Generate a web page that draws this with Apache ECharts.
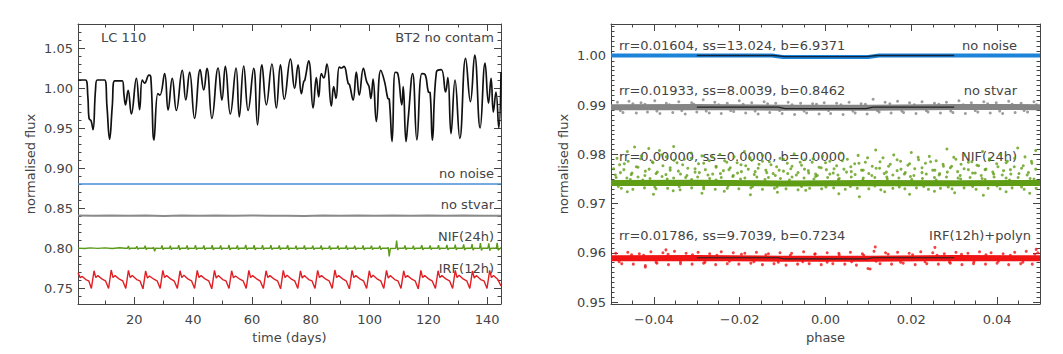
<!DOCTYPE html>
<html lang="en">
<head>
  <meta charset="UTF-8">
  <title>LC 110 light curves</title>
  <style>
    html, body { margin: 0; padding: 0; background: #fff; }
    #chart { width: 1063px; height: 354px; }
  </style>
</head>
<body>
  <div id="chart"></div>
  <script src="https://cdn.jsdelivr.net/npm/echarts@6/dist/echarts.min.js"></script>
  <script>
    // ---- left panel: time series ----
    const lcDay = [0.85,3.4,4.2,4.6,5.3,5.95,6.8,7.4,9.9,10.7,11.6,12.5,13.3,15.9,16.5,17.0,17.9,19.0,20.7,21.8,22.7,23.5,25.0,25.6,26.7,28.0,28.7,30.3,31.5,32.9,34.3,36.3,37.5,38.8,40.5,42.4,43.6,44.7,46.4,48.5,49.8,50.95,52.65,54.6,55.7,57.2,58.7,60.6,61.9,63.4,64.9,66.8,68.3,69.7,71.0,73.1,74.5,75.7,76.8,77.6,78.0,79.3,80.8,81.9,82.7,83.6,84.4,85.5,87.0,87.8,88.6,89.7,90.5,91.3,92.7,93.2,94.4,95.5,96.5,97.9,99.0,99.8,100.45,101.2,102.3,103.8,105.1,106.2,106.7,107.65,108.7,109.5,110.96,111.45,112.4,113.1,114.66,116.1,117.8,118.84,120.0,120.6,121.37,122.74,124.4,125.86,126.63,127.7,129.06,130.7,132.66,134.3,135.76,137.6,139.28,140.44,141.32,142.1,142.98,143.95,144.7];
    const lcFlux = [1.010,1.010,0.989,0.962,0.959,0.948,0.9975,1.010,1.010,0.977,0.936,0.977,1.009,1.009,0.991,0.979,0.997,0.9675,1.012,0.973,1.010,1.006,1.016,1.014,0.935,0.993,0.991,1.018,0.9725,1.012,0.972,1.022,0.985,1.020,0.962,1.023,0.9975,1.0246,0.962,1.025,0.985,1.027,0.9675,1.025,0.964,1.0275,0.972,1.0246,0.954,1.029,0.979,1.030,0.975,1.029,0.986,1.036,0.9996,1.029,0.993,1.008,1.010,1.034,0.975,1.013,0.989,1.018,1.0125,1.030,0.9775,1.0017,0.987,1.026,1.025,1.027,1.006,1.004,0.985,1.020,0.991,1.0246,1.008,1.002,0.987,1.011,0.958,1.022,1.008,0.987,0.986,0.933,1.0196,1.019,0.979,1.0017,0.933,0.960,1.018,0.935,1.018,1.017,0.995,0.994,0.935,1.020,1.023,0.995,1.013,0.943,1.010,0.937,1.037,0.983,1.041,0.950,1.031,0.981,1.012,0.970,0.995,0.950,1.020];

    const noNoiseLeft = [[0.85,0.880],[144.7,0.880]];

    const noStvarLeft = [[0.85,0.8405],[6,0.8402],[12,0.8406],[18,0.8403],[24,0.8405],[30,0.8401],[36,0.8406],[42,0.8403],[48,0.8405],[54,0.8402],[60,0.8406],[66,0.8403],[72,0.8404],[78,0.8401],[84,0.8406],[90,0.8403],[96,0.8405],[102,0.8402],[108,0.8406],[114,0.8403],[120,0.8405],[126,0.8402],[132,0.8406],[138,0.8403],[144.7,0.8404]];

    // spikes: base, top, dip, base
    const nifLeft = [[0.85,0.7998],[3,0.7994],[5,0.8001],[7.5,0.7995],[10,0.8002],[12.5,0.7993],[15,0.8003],[16.8,0.7996],
      [17.7,0.7997],[18.0,0.8025],[18.35,0.7983],[18.7,0.7997],
      [20.55,0.7997],[20.85,0.8022],[21.2,0.7984],[21.55,0.7998],
      [23.4,0.7996],[23.7,0.8028],[24.05,0.7981],[24.4,0.7997],
      [26.25,0.7997],[26.55,0.8012],[26.9,0.7958],[27.25,0.7996],
      [29.1,0.7995],[29.4,0.8032],[29.75,0.7979],[30.1,0.7997],
      [31.95,0.7996],[32.25,0.8030],[32.6,0.7980],[32.95,0.7998],
      [34.8,0.7997],[35.1,0.8034],[35.45,0.7978],[35.8,0.7996],
      [37.65,0.7996],[37.95,0.8031],[38.3,0.7981],[38.65,0.7997],
      [40.5,0.7995],[40.8,0.8035],[41.15,0.7979],[41.5,0.7998],
      [43.35,0.7996],[43.65,0.8033],[44.0,0.7980],[44.35,0.7996],
      [46.2,0.7997],[46.5,0.8036],[46.85,0.7978],[47.2,0.7997],
      [49.05,0.7996],[49.35,0.8032],[49.7,0.7981],[50.05,0.7998],
      [51.9,0.7995],[52.2,0.8037],[52.55,0.7977],[52.9,0.7996],
      [54.75,0.7996],[55.05,0.8033],[55.4,0.7980],[55.75,0.7997],
      [57.6,0.7997],[57.9,0.8038],[58.25,0.7979],[58.6,0.7996],
      [60.45,0.7996],[60.75,0.8034],[61.1,0.7978],[61.45,0.7998],
      [63.3,0.7995],[63.6,0.8036],[63.95,0.7981],[64.3,0.7997],
      [66.15,0.7996],[66.45,0.8035],[66.8,0.7979],[67.15,0.7996],
      [69.0,0.7997],[69.3,0.8031],[69.65,0.7980],[70.0,0.7997],
      [71.85,0.7996],[72.15,0.8034],[72.5,0.7978],[72.85,0.7998],
      [74.7,0.7995],[75.0,0.8030],[75.35,0.7981],[75.7,0.7996],
      [77.55,0.7996],[77.85,0.8033],[78.2,0.7979],[78.55,0.7997],
      [80.4,0.7997],[80.7,0.8029],[81.05,0.7980],[81.4,0.7996],
      [83.25,0.7996],[83.55,0.8032],[83.9,0.7978],[84.25,0.7998],
      [86.1,0.7995],[86.4,0.8030],[86.75,0.7981],[87.1,0.7997],
      [88.95,0.7996],[89.25,0.8028],[89.6,0.7980],[89.95,0.7996],
      [91.8,0.7997],[92.1,0.8031],[92.45,0.7979],[92.8,0.7997],
      [94.65,0.7996],[94.95,0.8029],[95.3,0.7981],[95.65,0.7998],
      [97.5,0.7995],[97.8,0.8032],[98.15,0.7978],[98.5,0.7996],
      [100.35,0.7996],[100.65,0.8030],[101.0,0.7980],[101.35,0.7997],
      [103.2,0.7997],[103.5,0.8027],[103.85,0.7979],[104.2,0.7996],
      [106.05,0.7996],[106.35,0.8008],[106.7,0.7895],[107.05,0.7994],
      [108.9,0.7997],[109.2,0.8092],[109.55,0.7975],[109.9,0.7998],
      [111.75,0.7996],[112.05,0.8033],[112.4,0.7979],[112.75,0.7997],
      [114.6,0.7995],[114.9,0.8030],[115.25,0.7980],[115.6,0.7996],
      [117.45,0.7996],[117.75,0.8034],[118.1,0.7978],[118.45,0.7998],
      [120.3,0.7997],[120.6,0.8031],[120.95,0.7981],[121.3,0.7996],
      [123.15,0.7996],[123.45,0.8035],[123.8,0.7979],[124.15,0.7997],
      [126.0,0.7995],[126.3,0.8038],[126.65,0.7977],[127.0,0.7996],
      [128.85,0.7996],[129.15,0.8042],[129.5,0.7976],[129.85,0.7998],
      [131.7,0.7997],[132.0,0.8045],[132.35,0.7975],[132.7,0.7996],
      [134.55,0.7996],[134.85,0.8048],[135.2,0.7974],[135.55,0.7997],
      [137.4,0.7995],[137.7,0.8062],[138.05,0.7970],[138.4,0.7998],
      [140.25,0.7996],[140.55,0.8058],[140.9,0.7968],[141.25,0.7997],
      [143.1,0.7997],[143.4,0.8064],[143.75,0.7972],[144.7,0.8005]];

    const irfLeft = [[0.85,0.769],[1.6,0.763],[2.3,0.7645],[3.5,0.7605],[4.5,0.759],
      [5.4,0.7495],[6.3,0.7715],[6.9,0.763],[7.6,0.7655],[9.1,0.761],[10.2,0.759],
      [11.25,0.7495],[12.15,0.7725],[12.75,0.763],[13.45,0.7655],[14.95,0.761],[16.05,0.759],
      [17.1,0.7495],[18.0,0.772],[18.6,0.763],[19.3,0.7655],[20.8,0.7605],[21.9,0.759],
      [22.95,0.749],[23.85,0.7715],[24.45,0.7625],[25.15,0.765],[26.65,0.761],[27.75,0.759],
      [28.8,0.7495],[29.7,0.772],[30.3,0.763],[31.0,0.7655],[32.5,0.761],[33.6,0.7585],
      [34.65,0.7495],[35.55,0.7715],[36.15,0.763],[36.85,0.766],[38.35,0.761],[39.45,0.759],
      [40.5,0.7495],[41.4,0.772],[42.0,0.763],[42.7,0.7655],[44.2,0.761],[45.3,0.759],
      [46.35,0.749],[47.25,0.772],[47.85,0.7625],[48.55,0.7655],[50.05,0.7605],[51.15,0.759],
      [52.2,0.7495],[53.1,0.7715],[53.7,0.763],[54.4,0.765],[55.9,0.761],[57.0,0.759],
      [58.05,0.7495],[58.95,0.772],[59.55,0.763],[60.25,0.7655],[61.75,0.761],[62.85,0.7585],
      [63.9,0.7495],[64.8,0.7715],[65.4,0.763],[66.1,0.7655],[67.6,0.761],[68.7,0.759],
      [69.75,0.749],[70.65,0.772],[71.25,0.763],[71.95,0.766],[73.45,0.761],[74.55,0.759],
      [75.6,0.7495],[76.5,0.7715],[77.1,0.7625],[77.8,0.7655],[79.3,0.7605],[80.4,0.759],
      [81.45,0.7495],[82.35,0.772],[82.95,0.763],[83.65,0.7655],[85.15,0.761],[86.25,0.759],
      [87.3,0.7495],[88.2,0.7725],[88.8,0.763],[89.5,0.7655],[91.0,0.761],[92.1,0.7585],
      [93.15,0.749],[94.05,0.772],[94.65,0.763],[95.35,0.7655],[96.85,0.761],[97.95,0.759],
      [99.0,0.7495],[99.9,0.7715],[100.5,0.763],[101.2,0.766],[102.7,0.761],[103.8,0.759],
      [104.85,0.7495],[105.75,0.772],[106.35,0.7625],[107.05,0.7655],[108.55,0.7605],[109.65,0.759],
      [110.7,0.7495],[111.6,0.7715],[112.2,0.763],[112.9,0.7655],[114.4,0.761],[115.5,0.759],
      [116.55,0.749],[117.45,0.772],[118.05,0.763],[118.75,0.7655],[120.25,0.761],[121.35,0.7585],
      [122.4,0.7495],[123.3,0.7715],[123.9,0.763],[124.6,0.7655],[126.1,0.761],[127.2,0.759],
      [128.25,0.7495],[129.15,0.772],[129.75,0.763],[130.45,0.766],[131.95,0.761],[133.05,0.759],
      [134.1,0.7495],[135.0,0.7715],[135.6,0.7625],[136.3,0.7655],[137.8,0.7605],[138.9,0.759],
      [139.95,0.7495],[140.85,0.772],[141.45,0.763],[142.15,0.7655],[143.65,0.7605],[144.7,0.7525]];

    const leftXLabels = [20, 40, 60, 80, 100, 120, 140];
    const leftYLabels = [0.75, 0.80, 0.85, 0.90, 0.95, 1.00, 1.05];

    // ---- right panel: phase-folded ----
    const noNoiseRight = [[-0.05,1.0001],[-0.0125,1.0001],[-0.010,0.9998],[0.010,0.9998],[0.0125,1.0001],[0.05,1.0001]];
    const modelNoNoise = [[-0.03,1.0001],[-0.012,1.0001],[-0.0095,0.99985],[0.0095,0.99985],[0.012,1.0001],[0.03,1.0001]];

    const stvarCore = [[-0.05,0.9896],[-0.03,0.98965],[-0.01,0.9895],[0.01,0.9895],[0.03,0.98965],[0.05,0.9896]];
    const stvarPts = [[-0.0485,0.9906],[-0.0472,0.9885],[-0.0458,0.9908],[-0.0441,0.9884],[-0.0430,0.9905],[-0.0415,0.9886],[-0.0398,0.9909],[-0.0386,0.9883],[-0.0371,0.9904],[-0.0356,0.9885],[-0.0342,0.9907],[-0.0327,0.9882],[-0.0312,0.9905],[-0.0300,0.9886],[-0.0285,0.9911],[-0.0271,0.9884],[-0.0258,0.9906],[-0.0243,0.9883],[-0.0229,0.9904],[-0.0214,0.9887],[-0.0201,0.9909],[-0.0186,0.9884],[-0.0172,0.9905],[-0.0157,0.9882],[-0.0143,0.9907],[-0.0130,0.9885],[-0.0116,0.9904],[-0.0101,0.9883],[-0.0087,0.9906],[-0.0072,0.9881],[-0.0058,0.9904],[-0.0044,0.9884],[-0.0030,0.9903],[-0.0015,0.9882],[-0.0003,0.9905],[0.0012,0.9883],[0.0026,0.9904],[0.0041,0.9881],[0.0055,0.9906],[0.0069,0.9884],[0.0083,0.9903],[0.0097,0.9882],[0.0111,0.9912],[0.0125,0.9886],[0.0139,0.9906],[0.0153,0.9884],[0.0168,0.9908],[0.0182,0.9885],[0.0196,0.9905],[0.0211,0.9883],[0.0225,0.9907],[0.0239,0.9886],[0.0254,0.9904],[0.0268,0.9884],[0.0282,0.9906],[0.0297,0.9885],[0.0311,0.9909],[0.0326,0.9883],[0.0340,0.9905],[0.0355,0.9886],[0.0369,0.9907],[0.0384,0.9884],[0.0398,0.9905],[0.0413,0.9883],[0.0427,0.9908],[0.0442,0.9885],[0.0456,0.9904],[0.0471,0.9886],[0.0486,0.9907],
      [-0.0478,0.9889],[-0.0449,0.9903],[-0.0421,0.9902],[-0.0393,0.9888],[-0.0364,0.9901],[-0.0335,0.9889],[-0.0307,0.9902],[-0.0278,0.9888],[-0.0249,0.9901],[-0.0221,0.9889],[-0.0192,0.9902],[-0.0164,0.9888],[-0.0135,0.9903],[-0.0107,0.9889],[-0.0078,0.9901],[-0.0050,0.9888],[-0.0021,0.9902],[0.0007,0.9889],[0.0036,0.9901],[0.0064,0.9888],[0.0093,0.9902],[0.0121,0.9889],[0.0150,0.9903],[0.0178,0.9888],[0.0207,0.9901],[0.0235,0.9889],[0.0264,0.9902],[0.0292,0.9888],[0.0321,0.9901],[0.0349,0.9889],[0.0378,0.9903],[0.0406,0.9888],[0.0435,0.9902],[0.0463,0.9889],[0.0492,0.9901]];
    const modelStvar = [[-0.03,0.9896],[-0.011,0.9896],[-0.0095,0.9893],[0.0095,0.9893],[0.011,0.9896],[0.03,0.9896]];

    const nifCore = [[-0.05,0.9742],[-0.03,0.97425],[-0.01,0.9741],[0.01,0.9742],[0.03,0.97415],[0.05,0.9742]];
    const nifPts = [[-0.0488,0.9753],[-0.0476,0.9731],[-0.0463,0.9752],[-0.0449,0.9729],[-0.0437,0.9754],[-0.0422,0.9732],[-0.0409,0.9751],[-0.0395,0.9730],[-0.0381,0.9755],[-0.0368,0.9731],[-0.0354,0.9752],[-0.0339,0.9728],[-0.0326,0.9753],[-0.0312,0.9732],[-0.0298,0.9754],[-0.0284,0.9730],[-0.0270,0.9751],[-0.0257,0.9729],[-0.0243,0.9753],[-0.0229,0.9731],[-0.0216,0.9755],[-0.0202,0.9730],[-0.0188,0.9752],[-0.0174,0.9732],[-0.0160,0.9754],[-0.0147,0.9729],[-0.0133,0.9753],[-0.0119,0.9731],[-0.0105,0.9751],[-0.0092,0.9730],[-0.0078,0.9754],[-0.0064,0.9728],[-0.0050,0.9752],[-0.0037,0.9731],[-0.0023,0.9755],[-0.0009,0.9730],[0.0005,0.9753],[0.0019,0.9732],[0.0032,0.9751],[0.0046,0.9729],[0.0060,0.9754],[0.0074,0.9731],[0.0088,0.9752],[0.0101,0.9730],[0.0115,0.9753],[0.0129,0.9728],[0.0143,0.9754],[0.0157,0.9731],[0.0171,0.9752],[0.0185,0.9730],[0.0198,0.9755],[0.0212,0.9732],[0.0226,0.9751],[0.0240,0.9729],[0.0254,0.9753],[0.0268,0.9731],[0.0282,0.9754],[0.0295,0.9730],[0.0309,0.9752],[0.0323,0.9732],[0.0337,0.9753],[0.0351,0.9729],[0.0365,0.9751],[0.0379,0.9731],[0.0393,0.9754],[0.0407,0.9730],[0.0421,0.9752],[0.0435,0.9732],[0.0449,0.9753],[0.0463,0.9729],[0.0477,0.9751],[0.0491,0.9731],
      [-0.0483,0.9735],[-0.0455,0.9749],[-0.0426,0.9748],[-0.0398,0.9734],[-0.0369,0.9750],[-0.0341,0.9735],[-0.0312,0.9749],[-0.0284,0.9734],[-0.0255,0.9748],[-0.0227,0.9736],[-0.0198,0.9750],[-0.0170,0.9735],[-0.0141,0.9749],[-0.0113,0.9734],[-0.0084,0.9748],[-0.0056,0.9735],[-0.0027,0.9750],[0.0001,0.9734],[0.0030,0.9749],[0.0058,0.9735],[0.0087,0.9748],[0.0115,0.9736],[0.0144,0.9750],[0.0172,0.9734],[0.0201,0.9749],[0.0229,0.9735],[0.0258,0.9748],[0.0286,0.9734],[0.0315,0.9750],[0.0343,0.9735],[0.0372,0.9749],[0.0400,0.9736],[0.0429,0.9748],[0.0457,0.9734],[0.0486,0.9750],
      [-0.0494,0.9771],[-0.0486,0.9792],[-0.0478,0.9763],[-0.0469,0.9781],[-0.0462,0.9806],[-0.0453,0.9759],[-0.0445,0.9815],[-0.0437,0.9774],[-0.0429,0.9797],[-0.0420,0.9766],[-0.0412,0.9812],[-0.0404,0.9785],[-0.0395,0.9761],[-0.0387,0.9808],[-0.0379,0.9777],[-0.0371,0.9795],[-0.0362,0.9768],[-0.0354,0.9816],[-0.0346,0.9783],[-0.0338,0.9760],[-0.0329,0.9790],[-0.0321,0.9772],[-0.0313,0.9803],[-0.0304,0.9764],[-0.0296,0.9781],[-0.0288,0.9797],[-0.0280,0.9769],[-0.0271,0.9787],[-0.0263,0.9760],[-0.0255,0.9776],[-0.0246,0.9800],[-0.0238,0.9767],[-0.0230,0.9784],[-0.0222,0.9773],[-0.0213,0.9795],[-0.0205,0.9762],[-0.0197,0.9779],[-0.0189,0.9806],[-0.0180,0.9770],[-0.0172,0.9788],[-0.0164,0.9765],[-0.0155,0.9780],[-0.0147,0.9798],[-0.0139,0.9768],[-0.0131,0.9785],[-0.0122,0.9761],[-0.0114,0.9775],[-0.0106,0.9792],[-0.0098,0.9766],[-0.0089,0.9782],[-0.0081,0.9771],[-0.0073,0.9801],[-0.0064,0.9763],[-0.0056,0.9778],[-0.0048,0.9789],[-0.0040,0.9767],[-0.0031,0.9784],[-0.0023,0.9760],[-0.0015,0.9774],[-0.0007,0.9796],[0.0002,0.9769],[0.0010,0.9786],[0.0018,0.9762],[0.0026,0.9777],[0.0035,0.9803],[0.0043,0.9770],[0.0051,0.9790],[0.0060,0.9765],[0.0068,0.9781],[0.0076,0.9798],[0.0084,0.9768],[0.0093,0.9784],[0.0101,0.9761],[0.0109,0.9776],[0.0117,0.9809],[0.0126,0.9772],[0.0134,0.9793],[0.0142,0.9764],[0.0151,0.9780],[0.0159,0.9799],[0.0167,0.9767],[0.0175,0.9786],[0.0184,0.9760],[0.0192,0.9778],[0.0200,0.9804],[0.0208,0.9771],[0.0217,0.9789],[0.0225,0.9763],[0.0233,0.9782],[0.0242,0.9796],[0.0250,0.9768],[0.0258,0.9787],[0.0266,0.9761],[0.0275,0.9776],[0.0283,0.9811],[0.0291,0.9773],[0.0299,0.9794],[0.0308,0.9765],[0.0316,0.9780],[0.0324,0.9799],[0.0333,0.9769],[0.0341,0.9785],[0.0349,0.9762],[0.0357,0.9777],[0.0366,0.9806],[0.0374,0.9770],[0.0382,0.9791],[0.0390,0.9764],[0.0399,0.9781],[0.0407,0.9800],[0.0415,0.9767],[0.0424,0.9786],[0.0432,0.9760],[0.0440,0.9775],[0.0448,0.9813],[0.0457,0.9772],[0.0465,0.9795],[0.0473,0.9763],[0.0481,0.9782],[0.0490,0.9808],
      [-0.0490,0.9758],[-0.0480,0.9779],[-0.0470,0.9769],[-0.0460,0.9786],[-0.0451,0.9762],[-0.0441,0.9775],[-0.0431,0.9791],[-0.0421,0.9757],[-0.0411,0.9770],[-0.0402,0.9783],[-0.0392,0.9764],[-0.0382,0.9799],[-0.0372,0.9759],[-0.0362,0.9773],[-0.0353,0.9788],[-0.0343,0.9766],[-0.0333,0.9779],[-0.0323,0.9757],[-0.0313,0.9792],[-0.0304,0.9771],[-0.0294,0.9763],[-0.0284,0.9782],[-0.0274,0.9758],[-0.0264,0.9795],[-0.0255,0.9774],[-0.0245,0.9761],[-0.0235,0.9787],[-0.0225,0.9769],[-0.0215,0.9757],[-0.0206,0.9783],[-0.0196,0.9765],[-0.0186,0.9777],[-0.0176,0.9793],[-0.0166,0.9759],[-0.0157,0.9772],[-0.0147,0.9786],[-0.0137,0.9763],[-0.0127,0.9779],[-0.0117,0.9757],[-0.0108,0.9768],[-0.0098,0.9790],[-0.0088,0.9761],[-0.0078,0.9776],[-0.0068,0.9758],[-0.0059,0.9784],[-0.0049,0.9770],[-0.0039,0.9762],[-0.0029,0.9791],[-0.0019,0.9757],[-0.0010,0.9773],[0.0000,0.9783],[0.0010,0.9760],[0.0020,0.9771],[0.0029,0.9758],[0.0039,0.9787],[0.0049,0.9764],[0.0059,0.9775],[0.0069,0.9759],[0.0078,0.9782],[0.0088,0.9768],[0.0098,0.9793],[0.0108,0.9757],[0.0118,0.9772],[0.0127,0.9785],[0.0137,0.9761],[0.0147,0.9776],[0.0157,0.9758],[0.0167,0.9789],[0.0176,0.9770],[0.0186,0.9763],[0.0196,0.9781],[0.0206,0.9757],[0.0216,0.9794],[0.0225,0.9773],[0.0235,0.9760],[0.0245,0.9785],[0.0255,0.9768],[0.0265,0.9758],[0.0274,0.9780],[0.0284,0.9764],[0.0294,0.9776],[0.0304,0.9790],[0.0314,0.9757],[0.0323,0.9771],[0.0333,0.9784],[0.0343,0.9762],[0.0353,0.9778],[0.0363,0.9757],[0.0372,0.9769],[0.0382,0.9788],[0.0392,0.9760],[0.0402,0.9775],[0.0412,0.9758],[0.0421,0.9783],[0.0431,0.9769],[0.0441,0.9792],[0.0451,0.9761],[0.0461,0.9777],[0.0470,0.9758],[0.0480,0.9786],[0.0490,0.9770],
      [-0.0462,0.9724],[-0.0401,0.9719],[-0.0355,0.9726],[-0.0288,0.9721],[-0.0236,0.9725],[-0.0175,0.9718],[-0.0112,0.9723],[-0.0046,0.9727],[0.0031,0.9720],[0.0079,0.9714],[0.0138,0.9724],[0.0196,0.9719],[0.0254,0.9725],[0.0301,0.9722],[0.0368,0.9717],[0.0421,0.9724],[0.0476,0.9721]];

    const irfCore = [[-0.05,0.9589],[-0.03,0.95895],[-0.01,0.9588],[0.01,0.9588],[0.03,0.95895],[0.05,0.9589]];
    const irfPts = [[-0.0489,0.9599],[-0.0475,0.9578],[-0.0461,0.9601],[-0.0448,0.9577],[-0.0434,0.9598],[-0.0420,0.9574],[-0.0407,0.9602],[-0.0393,0.9579],[-0.0379,0.9600],[-0.0366,0.9576],[-0.0352,0.9603],[-0.0338,0.9578],[-0.0325,0.9599],[-0.0311,0.9577],[-0.0297,0.9601],[-0.0284,0.9579],[-0.0270,0.9598],[-0.0256,0.9576],[-0.0243,0.9602],[-0.0229,0.9578],[-0.0215,0.9600],[-0.0202,0.9577],[-0.0188,0.9599],[-0.0174,0.9579],[-0.0161,0.9601],[-0.0147,0.9576],[-0.0133,0.9598],[-0.0120,0.9578],[-0.0106,0.9600],[-0.0092,0.9575],[-0.0079,0.9599],[-0.0065,0.9577],[-0.0051,0.9602],[-0.0038,0.9578],[-0.0024,0.9598],[-0.0010,0.9576],[0.0004,0.9600],[0.0017,0.9578],[0.0031,0.9599],[0.0045,0.9577],[0.0058,0.9601],[0.0072,0.9575],[0.0086,0.9598],[0.0099,0.9568],[0.0113,0.9603],[0.0127,0.9578],[0.0140,0.9600],[0.0154,0.9577],[0.0168,0.9601],[0.0181,0.9579],[0.0195,0.9599],[0.0209,0.9576],[0.0222,0.9602],[0.0236,0.9578],[0.0250,0.9600],[0.0263,0.9577],[0.0277,0.9598],[0.0291,0.9579],[0.0304,0.9601],[0.0318,0.9576],[0.0332,0.9599],[0.0345,0.9578],[0.0359,0.9602],[0.0373,0.9577],[0.0386,0.9600],[0.0400,0.9579],[0.0414,0.9598],[0.0427,0.9576],[0.0441,0.9601],[0.0455,0.9578],[0.0468,0.9603],[0.0482,0.9577],[0.0495,0.9600],
      [-0.0481,0.9582],[-0.0452,0.9596],[-0.0424,0.9595],[-0.0395,0.9581],[-0.0367,0.9597],[-0.0338,0.9582],[-0.0310,0.9596],[-0.0281,0.9581],[-0.0253,0.9595],[-0.0224,0.9583],[-0.0196,0.9597],[-0.0167,0.9582],[-0.0139,0.9596],[-0.0110,0.9581],[-0.0082,0.9595],[-0.0053,0.9582],[-0.0025,0.9597],[0.0004,0.9581],[0.0032,0.9596],[0.0061,0.9582],[0.0089,0.9595],[0.0118,0.9583],[0.0146,0.9597],[0.0175,0.9581],[0.0203,0.9596],[0.0232,0.9582],[0.0260,0.9595],[0.0289,0.9581],[0.0317,0.9597],[0.0346,0.9582],[0.0374,0.9596],[0.0403,0.9583],[0.0431,0.9595],[0.0460,0.9581],[0.0488,0.9597],
      [0.0116,0.9612],[0.0255,0.9611],[-0.0420,0.9571],[0.0491,0.9607],[-0.0372,0.9606],[0.0104,0.9567]];
    const modelIrf = [[-0.03,0.9590],[-0.011,0.9590],[-0.0095,0.95875],[0.0095,0.95875],[0.011,0.9590],[0.03,0.9590]];

    const rightXLabels = [-0.04, -0.02, 0, 0.02, 0.04];
    const rightYLabels = [0.95, 0.96, 0.97, 0.98, 0.99, 1.00];

    const FONT = 'DejaVu Sans';
    const INK = '#444';

    function steps(a, b, d) {
      const out = [];
      for (let i = 0; a + i * d <= b + 1e-9; i++) out.push(+(a + i * d).toFixed(6));
      return out;
    }

    // one side of a framed IDL-style box: major axis (with labels) + minor tick axis
    function side(grid, pos, min, max, majors, minors, fmt, withLabels, name, nameGap) {
      const common = {
        type: 'value', gridIndex: grid, position: pos, min: min, max: max,
        splitLine: { show: false }, axisPointer: { show: false }
      };
      const major = Object.assign({}, common, {
        axisLine: { show: true, onZero: false, lineStyle: { color: INK, width: 1 } },
        axisTick: { show: true, inside: true, length: 7, customValues: majors, lineStyle: { color: INK } },
        axisLabel: withLabels
          ? { show: true, customValues: majors, formatter: fmt, color: INK, fontFamily: FONT, fontSize: 13, margin: (pos === 'bottom' ? 9 : 5) }
          : { show: false }
      });
      if (name) {
        Object.assign(major, {
          name: name, nameLocation: 'middle', nameGap: nameGap,
          nameRotate: (pos === 'left' ? 90 : 0),
          nameTextStyle: { color: INK, fontFamily: FONT, fontSize: 13 }
        });
      }
      const minor = Object.assign({}, common, {
        axisLine: { show: false, onZero: false },
        axisTick: { show: true, inside: true, length: 3.5, customValues: minors, lineStyle: { color: INK } },
        axisLabel: { show: false }
      });
      return [major, minor];
    }

    const fmt2 = v => (v < 0 ? '\u2212' : '') + Math.abs(v).toFixed(2);
    const fmt0 = v => String(Math.round(v));

    const LX = [0.85, 144.7], LY = [0.73, 1.08];
    const RX = [-0.05, 0.05], RY = [0.9496, 1.0065];

    const xAxes = [].concat(
      side(0, 'bottom', LX[0], LX[1], leftXLabels, steps(10, 140, 10), fmt0, true, 'time (days)', 23),
      side(0, 'top', LX[0], LX[1], leftXLabels, steps(10, 140, 10), fmt0, false),
      side(1, 'bottom', RX[0], RX[1], rightXLabels, steps(-0.045, 0.045, 0.005), fmt2, true, 'phase', 24),
      side(1, 'top', RX[0], RX[1], rightXLabels, steps(-0.045, 0.045, 0.005), fmt2, false)
    );
    const yAxes = [].concat(
      side(0, 'left', LY[0], LY[1], leftYLabels, steps(0.74, 1.07, 0.01), fmt2, true, 'normalised flux', 41),
      side(0, 'right', LY[0], LY[1], leftYLabels, steps(0.74, 1.07, 0.01), fmt2, false),
      side(1, 'left', RY[0], RY[1], rightYLabels, steps(0.950, 1.006, 0.001), fmt2, true, 'normalised flux', 41),
      side(1, 'right', RY[0], RY[1], rightYLabels, steps(0.950, 1.006, 0.001), fmt2, false)
    );

    const L = { xAxisIndex: 0, yAxisIndex: 0 };
    const R = { xAxisIndex: 4, yAxisIndex: 4 };

    function line(ax, data, color, width, extra) {
      return Object.assign({
        type: 'line', data: data, showSymbol: false, symbol: 'none', silent: true,
        lineStyle: { color: color, width: width }
      }, ax, extra || {});
    }
    function dots(ax, data, color) {
      return Object.assign({
        type: 'scatter', data: data, symbol: 'circle', symbolSize: 3, silent: true,
        itemStyle: { color: color }
      }, ax);
    }

    const series = [
      line(L, lcDay.map((d, i) => [d, lcFlux[i]]), '#111', 1.7, { smooth: 0.45 }),
      line(L, noNoiseLeft, '#4a8fd6', 1.3),
      line(L, noStvarLeft, '#8a8a8a', 2),
      line(L, nifLeft, '#5b9a18', 1.4),
      line(L, irfLeft, '#e01e24', 1.4),

      line(R, noNoiseRight, '#1b84d8', 4),
      line(R, stvarCore, '#858585', 6),
      dots(R, stvarPts, '#858585'),
      line(R, nifCore, '#5f9e14', 6),
      dots(R, nifPts, '#5f9e14'),
      line(R, irfCore, '#f01414', 6),
      dots(R, irfPts, '#f01414'),
      line(R, modelNoNoise, '#10243f', 1.3, { z: 5 }),
      line(R, modelStvar, '#222', 1.2, { z: 5 }),
      line(R, modelIrf, '#222', 1.2, { z: 5 })
    ];

    function txt(x, y, s, align) {
      return {
        type: 'text', x: x, y: y, z: 0, silent: true,
        style: { text: s, fill: INK, font: '13px "' + FONT + '"', align: align, verticalAlign: 'middle' }
      };
    }

    const option = {
      animation: false,
      backgroundColor: '#fff',
      grid: [
        { left: 78, top: 24, width: 423, height: 280 },
        { left: 611, top: 24, width: 429, height: 280 }
      ],
      xAxis: xAxes,
      yAxis: yAxes,
      series: series,
      graphic: [
        txt(101, 37, 'LC 110', 'left'),
        txt(494, 37, 'BT2 no contam', 'right'),
        txt(494, 173, 'no noise', 'right'),
        txt(494, 204, 'no stvar', 'right'),
        txt(494, 236, 'NIF(24h)', 'right'),
        txt(494, 268, 'IRF(12h)', 'right'),
        txt(619, 45, 'rr=0.01604, ss=13.024, b=6.9371', 'left'),
        txt(1017, 45, 'no noise', 'right'),
        txt(619, 90, 'rr=0.01933, ss=8.0039, b=0.8462', 'left'),
        txt(1017, 90, 'no stvar', 'right'),
        txt(619, 156, 'rr=0.00000, ss=0.0000, b=0.0000', 'left'),
        txt(1017, 156, 'NIF(24h)', 'right'),
        txt(619, 235, 'rr=0.01786, ss=9.7039, b=0.7234', 'left'),
        txt(1031, 235, 'IRF(12h)+polyn', 'right')
      ]
    };

    const chart = echarts.init(document.getElementById('chart'), null, { renderer: 'svg' });
    chart.setOption(option);
  </script>
</body>
</html>
